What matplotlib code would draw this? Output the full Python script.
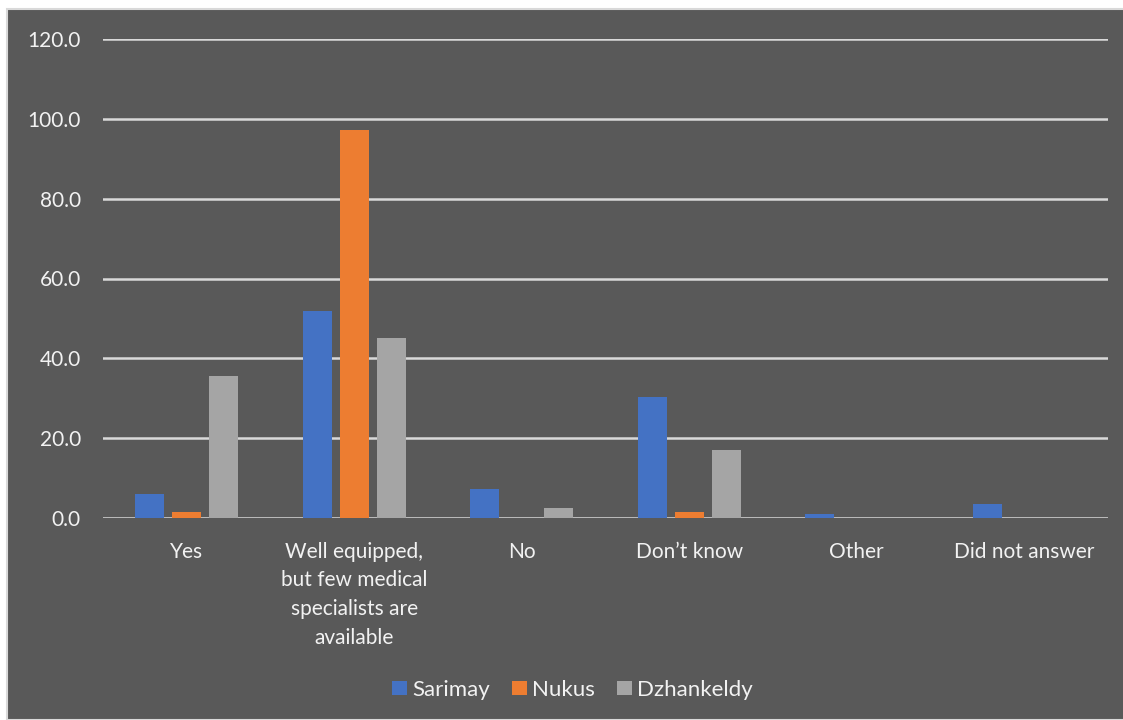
import matplotlib.pyplot as plt
import numpy as np
from matplotlib.patches import Rectangle

# Survey answers per district (percent).
categories = ["Yes", "Well equipped,\nbut few medical\nspecialists are\navailable", "No",
              "Don\u2019t know", "Other", "Did not answer"]
sarimay = [6.0, 51.8, 7.2, 30.4, 0.9, 3.5]
nukus = [1.5, 97.1, 0.0, 1.6, 0.0, 0.0]
dzhankeldy = [35.6, 45.1, 2.4, 17.0, 0.0, 0.0]
series_names = ["Sarimay", "Nukus", "Dzhankeldy"]

bg = "#595959"
txt = "#f2f2f2"
plt.rcParams["font.family"] = ["Lato", "DejaVu Sans"]

fig = plt.figure(figsize=(11.23, 7.2), dpi=100, facecolor="white")
# dark chart area with light border, offset like the screenshot
fig.patches.append(Rectangle((7 / 1123, 0), 1.0, 1 - 9 / 720, transform=fig.transFigure,
                             facecolor=bg, edgecolor="#d9d9d9", linewidth=1.5, zorder=-10))

ax = fig.add_axes([103 / 1123, 1 - 518 / 720, 1005 / 1123, 479 / 720])
ax.set_facecolor(bg)

x = np.arange(len(categories))
w = 0.173
step = 0.221
colors = ["#4472c4", "#ed7d31", "#a5a5a5"]
for i, (vals, name) in enumerate(zip([sarimay, nukus, dzhankeldy], series_names)):
    ax.bar(x + (i - 1) * step, vals, width=w, color=colors[i], label=name, zorder=3)

ax.set_xlim(-0.5, len(categories) - 0.5)
ax.set_ylim(0, 120)
ax.set_yticks(np.arange(0, 121, 20))
ax.set_yticklabels([f"{v:.1f}" for v in np.arange(0, 121, 20)])
ax.yaxis.grid(True, color="#d9d9d9", linewidth=1.8, zorder=1)
ax.set_axisbelow(True)
ax.set_xticks(x)
ax.set_xticklabels(categories, linespacing=1.55)
ax.tick_params(axis="both", length=0, colors=txt, labelsize=15)
ax.tick_params(axis="y", pad=16)
ax.tick_params(axis="x", pad=17)
for s in ax.spines.values():
    s.set_visible(False)

leg = fig.legend(loc="center", bbox_to_anchor=(0.51, 0.042), ncol=3, frameon=False,
                 fontsize=16, handlelength=0.65, handleheight=0.65, handletextpad=0.25,
                 columnspacing=1.0)
for t in leg.get_texts():
    t.set_color(txt)

fig.savefig("out.png", dpi=100, facecolor=fig.get_facecolor())
